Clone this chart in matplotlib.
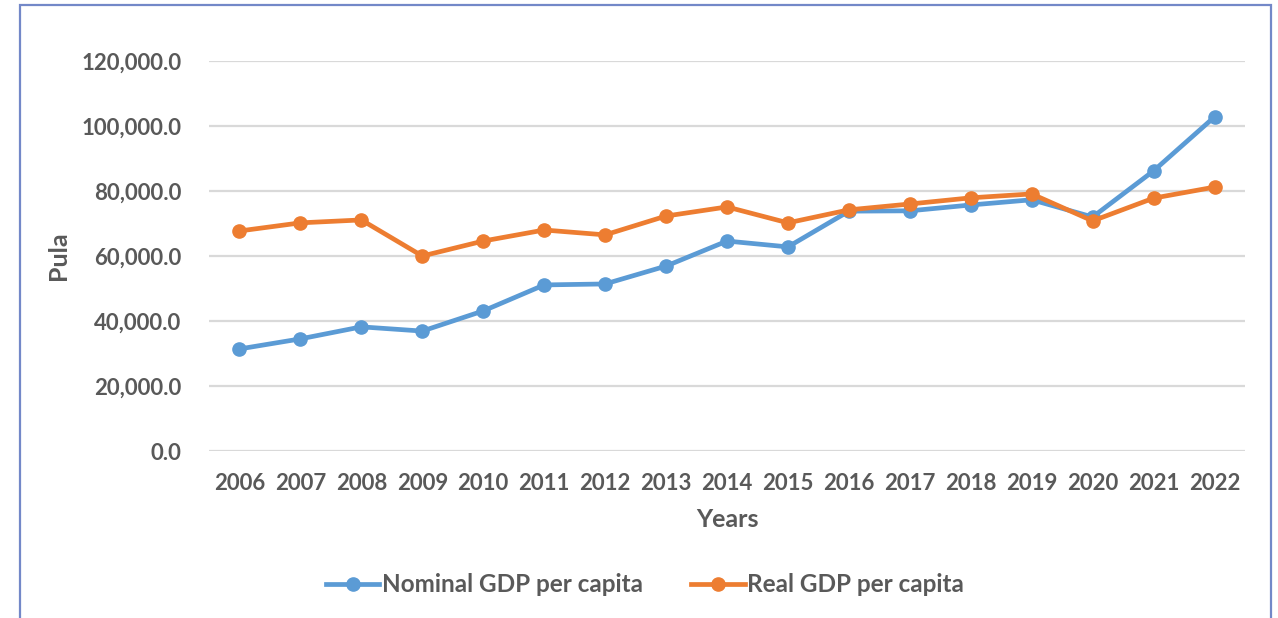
import matplotlib
matplotlib.use("Agg")
import matplotlib.pyplot as plt
from matplotlib.patches import Rectangle

years = ["2006", "2007", "2008", "2009", "2010", "2011", "2012", "2013", "2014",
         "2015", "2016", "2017", "2018", "2019", "2020", "2021", "2022"]
nominal = [31400, 34500, 38200, 36900, 43100, 51100, 51400, 56900, 64600,
           62800, 73800, 73900, 75700, 77300, 72000, 86200, 102800]
real = [67700, 70200, 71100, 60000, 64600, 68000, 66500, 72300, 75100,
        70200, 74200, 76000, 77900, 79100, 70800, 77800, 81200]
y_ticks = [0, 20000, 40000, 60000, 80000, 100000, 120000]

grey = "#595959"
blue = "#5B9BD5"
orange = "#ED7D31"

plt.rcParams['font.family'] = ['Lato', 'DejaVu Sans']
plt.rcParams['font.weight'] = 'bold'

fig = plt.figure(figsize=(12.78, 6.18), dpi=100)
ax = fig.add_axes([209 / 1278, 1 - 451 / 618, (1245 - 209) / 1278, 390 / 618])

x = range(len(years))
ax.plot(x, nominal, color=blue, lw=3.4, marker='o', ms=9.5, label="Nominal GDP per capita")
ax.plot(x, real, color=orange, lw=3.4, marker='o', ms=9.5, label="Real GDP per capita")

ax.set_xlim(-0.5, len(years) - 0.5)
ax.set_ylim(0, 120000)
ax.set_xticks(list(x))
ax.set_xticklabels(years)
ax.set_yticks(y_ticks)
ax.set_yticklabels([f"{v:,.1f}" for v in y_ticks])
ax.tick_params(length=0, labelsize=16, colors=grey)
ax.tick_params(axis='y', pad=20)
ax.tick_params(axis='x', pad=16)
for lab in ax.get_xticklabels() + ax.get_yticklabels():
    lab.set_fontweight('bold')
ax.grid(axis='y', color="#D9D9D9", lw=1.6)
ax.set_axisbelow(True)
for s in ax.spines.values():
    s.set_visible(False)

ax.set_xlabel("Years", fontsize=18, fontweight='bold', color=grey, labelpad=10)
ax.set_ylabel("Pula", fontsize=18, fontweight='bold', color=grey, labelpad=8)

fig.legend(loc='center', bbox_to_anchor=(645 / 1278, 1 - 585 / 618), ncol=2,
           frameon=False, handlelength=2.2, columnspacing=2.0,
           handletextpad=0.1, labelcolor=grey, prop={'weight': 'bold', 'size': 17.5})

# outer frame of the chart box
fig.patches.append(Rectangle((20 / 1278, -0.05), (1271 - 20) / 1278, 1.05 - 5 / 618,
                             transform=fig.transFigure, fill=False,
                             edgecolor="#7388C8", lw=1.6))

fig.savefig("out.png", dpi=100)
